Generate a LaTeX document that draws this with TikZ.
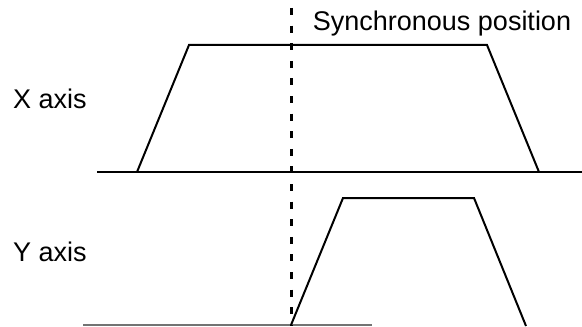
\documentclass[tikz,border=0pt]{standalone}
\usepackage{fontspec}
\setmainfont{Liberation Sans}
\begin{document}
\begin{tikzpicture}[x=0.5pt,y=-0.5pt,
  lbl/.style={font=\fontsize{13.5pt}{16pt}\selectfont, inner sep=0pt},
  sig/.style={line width=1pt, line join=miter},
  base/.style={line width=1pt},
  sync/.style={line width=1.5pt, dash pattern=on 3.5pt off 5.3pt}]
\useasboundingbox (0,0) rectangle (582,326);
% labels
\node[lbl] (xl) at (50,99) {X axis};
\node[lbl] (yl) at (50,252) {Y axis};
\node[lbl] (sl) at (442,24) {Synchronous position};
% X axis
\coordinate (xb0) at (97,172);
\coordinate (xb1) at (582,172);
\coordinate (x1) at (137,172);
\coordinate (x2) at (189,45);
\coordinate (x3) at (487,45);
\coordinate (x4) at (539,172);
\draw[base] (xb0) -- (xb1);
\draw[sig] (x1) -- (x2) -- (x3) -- (x4);
% Y axis
\coordinate (yb0) at (83,325);
\coordinate (yb1) at (372,325);
\coordinate (y1) at (291,325);
\coordinate (y2) at (343,198);
\coordinate (y3) at (474,198);
\coordinate (y4) at (526,326);
\draw[base, black!55] (yb0) -- (yb1);
\draw[sig] (y1) -- (y2) -- (y3) -- (y4);
% synchronous position
\coordinate (s0) at (291,8);
\coordinate (s1) at (291,326);
\draw[sync] (s0) -- (s1);
\end{tikzpicture}
\end{document}
